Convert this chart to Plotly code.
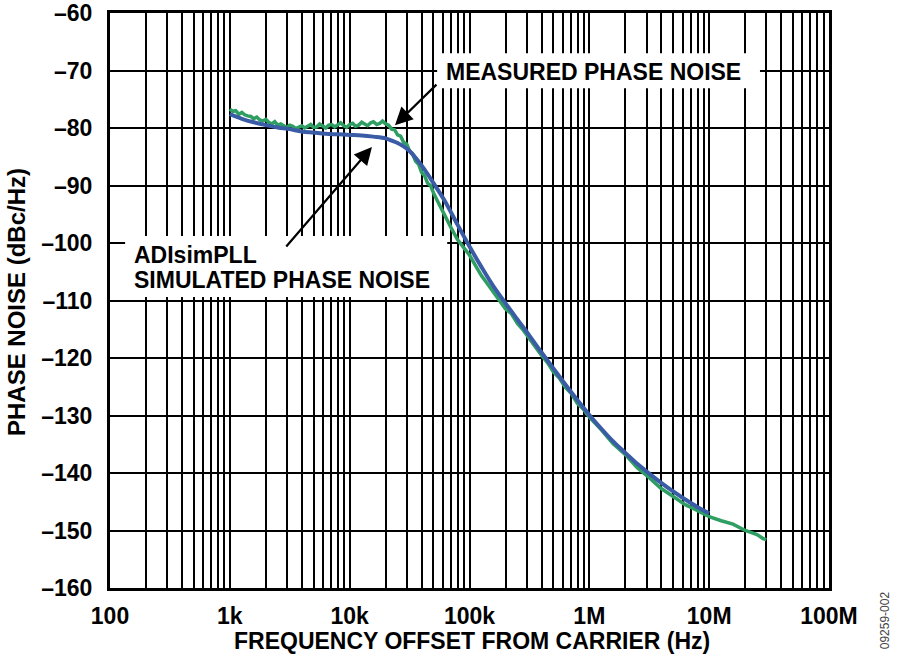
import plotly.graph_objects as go

# measured phase noise (green), offset freq in Hz and dBc/Hz
meas_freq = [1000, 1060, 1120, 1190, 1260, 1330, 1410, 1500, 1580, 1680, 1780, 1880,
             2000, 2110, 2240, 2370, 2510, 2660, 2820, 2990, 3160, 3350, 3550, 3760,
             3980, 4220, 4470, 4730, 5010, 5310, 5620, 5960, 6310, 6680, 7080, 7500,
             7940, 8410, 8910, 9440, 10000, 10600, 11200, 11900, 12600, 13300, 14100,
             15000, 15800, 16800, 17800, 18800, 20000, 21100, 22400, 23700, 25100,
             26600, 28200, 29900, 31600, 33500, 35500, 37600, 39800, 42200, 44700,
             47300, 50100, 56200, 63100, 70800, 79400, 89100, 100000, 112000, 126000,
             141000, 158000, 178000, 200000, 224000, 251000, 282000, 316000, 355000,
             398000, 447000, 501000, 562000, 631000, 708000, 794000, 891000, 1000000,
             1260000, 1580000, 2000000, 2510000, 3160000, 3980000, 5010000, 6310000,
             7940000, 10000000, 12600000, 15800000, 20000000, 25100000, 28200000, 30000000]
meas_db = [-76.7, -77.1, -77.0, -77.6, -77.3, -77.7, -77.9, -78.0, -78.4, -78.1, -78.6, -78.8,
           -78.5, -79.0, -79.3, -78.9, -79.5, -79.3, -79.6, -79.9, -79.5, -79.7, -80.1, -79.8,
           -79.6, -80.0, -79.7, -79.4, -79.9, -79.8, -79.3, -79.6, -80.0, -79.5, -79.4, -79.8,
           -79.5, -79.1, -79.6, -79.9, -79.4, -79.2, -79.7, -79.5, -79.0, -79.3, -79.6,
           -79.1, -78.9, -79.4, -79.2, -78.8, -79.3, -79.5, -80.2, -80.3, -81.2,
           -81.4, -82.5, -82.8, -84.0, -84.5, -85.8, -86.3, -87.7, -88.3, -89.6,
           -90.0, -91.3, -93.4, -95.6, -97.5, -99.4, -100.8, -102.1, -103.9, -105.7,
           -107.1, -108.6, -109.9, -111.5, -112.3, -114.0, -115.2, -116.7, -118.1,
           -119.5, -120.8, -122.4, -123.5, -125.1, -126.2, -127.9, -128.9, -130.3,
           -132.5, -134.9, -136.8, -139.1, -140.8, -142.7, -144.1, -145.5,
           -146.5, -147.6, -148.3, -148.9, -150.0, -150.7, -151.4, -151.6]

# ADIsimPLL simulated phase noise (blue)
sim_freq = [1000, 1260, 1580, 2000, 2510, 3160, 3980, 5010, 6310, 7940, 10000, 12600,
            15800, 20000, 22400, 25100, 28200, 31600, 35500, 39800, 44700, 50100, 56200,
            63100, 79400, 100000, 126000, 158000, 200000, 251000, 316000, 398000, 501000,
            631000, 794000, 1000000, 1260000, 1580000, 2000000, 2510000, 3160000, 3980000,
            5010000, 6310000, 7940000, 10000000]
sim_db = [-77.6, -78.4, -79.0, -79.5, -79.9, -80.2, -80.6, -80.8, -81.0, -81.1, -81.2, -81.3,
          -81.5, -81.8, -82.2, -82.6, -83.2, -84.0, -85.2, -86.5, -88.0, -89.6, -91.2,
          -92.9, -96.8, -100.6, -104.2, -107.5, -110.5, -113.3, -116.1, -119.0, -121.8,
          -124.6, -127.3, -129.9, -132.3, -134.5, -136.5, -138.4, -140.1, -141.7,
          -143.2, -144.6, -145.9, -147.0]

x_ticks = [1e2, 1e3, 1e4, 1e5, 1e6, 1e7, 1e8]
x_labels = ["100", "1k", "10k", "100k", "1M", "10M", "100M"]
y_ticks = [-60, -70, -80, -90, -100, -110, -120, -130, -140, -150, -160]
y_labels = ["\u2013" + str(-v) for v in y_ticks]

FONT = "Liberation Sans, Arial, sans-serif"
minor_vals = [m * 10 ** e for e in range(2, 8) for m in range(2, 10)]

fig = go.Figure()
fig.add_trace(go.Scatter(x=meas_freq, y=meas_db, mode="lines",
                         line=dict(color="#2f9e62", width=3.5), showlegend=False))
fig.add_trace(go.Scatter(x=sim_freq, y=sim_db, mode="lines",
                         line=dict(color="#3a5ca6", width=4, shape="spline"), showlegend=False))

tick_font = dict(family=FONT, size=23, color="black", weight="bold")
fig.update_xaxes(type="log", range=[2, 8], tickvals=x_ticks, ticktext=x_labels,
                 showgrid=True, gridcolor="black", gridwidth=2, automargin=False,
                 minor=dict(tickvals=minor_vals, showgrid=True, gridcolor="black", gridwidth=1.6, ticks=""),
                 showline=True, mirror=True, linecolor="black", linewidth=3,
                 ticks="", ticklabelstandoff=5, ticklabeloverflow="allow", tickfont=tick_font)
fig.update_yaxes(range=[-160, -60], tickvals=y_ticks, ticktext=y_labels,
                 showgrid=True, gridcolor="black", gridwidth=2, zeroline=False, automargin=False,
                 showline=True, mirror=True, linecolor="black", linewidth=3,
                 ticks="", ticklabelstandoff=10, ticklabeloverflow="allow", tickfont=tick_font)

# white label boxes that hide the grid
fig.add_shape(type="rect", xref="paper", yref="paper", x0=0.455, x1=0.904, y0=0.869, y1=0.930,
              fillcolor="white", line=dict(width=0), layer="above")
fig.add_shape(type="rect", xref="paper", yref="paper", x0=0.021, x1=0.469, y0=0.506, y1=0.612,
              fillcolor="white", line=dict(width=0), layer="above")

lab = dict(family=FONT, size=23, color="black", weight="bold")
fig.add_annotation(text="MEASURED PHASE NOISE", xref="paper", yref="paper", x=0.464, y=0.897,
                   xanchor="left", yanchor="middle", showarrow=False, font=lab)
fig.add_annotation(text="ADIsimPLL", xref="paper", yref="paper", x=0.030, y=0.580,
                   xanchor="left", yanchor="middle", showarrow=False, font=lab)
fig.add_annotation(text="SIMULATED PHASE NOISE", xref="paper", yref="paper", x=0.030, y=0.536,
                   xanchor="left", yanchor="middle", showarrow=False, font=lab)

# arrows
fig.add_annotation(text="", x=4.378, y=-79.5, ax=43, ay=-42, showarrow=True,
                   arrowhead=2, arrowsize=1.6, arrowwidth=2.2, arrowcolor="black", standoff=0)
fig.add_annotation(text="", x=4.186, y=-83.3, ax=-87, ay=101, showarrow=True,
                   arrowhead=2, arrowsize=1.6, arrowwidth=2.2, arrowcolor="black", standoff=0)

# axis titles
fig.add_annotation(text="FREQUENCY OFFSET FROM CARRIER (Hz)", xref="paper", yref="paper",
                   x=0.503, y=-0.092, xanchor="center", yanchor="middle", showarrow=False, font=lab)
fig.add_annotation(text="PHASE NOISE (dBc/Hz)", xref="paper", yref="paper", textangle=-90,
                   x=-0.131, y=0.497, xanchor="center", yanchor="middle", showarrow=False,
                   font=dict(family=FONT, size=24, color="black", weight="bold"))
fig.add_annotation(text="09259-002", xref="paper", yref="paper", textangle=-90,
                   x=1.078, y=-0.056, xanchor="center", yanchor="middle", showarrow=False,
                   font=dict(family=FONT, size=12, color="#444444"))

fig.update_layout(width=900, height=671, margin=dict(l=110, r=71, t=13, b=83),
                  plot_bgcolor="white", paper_bgcolor="white")

# drop the default body margin so the figure sits at the window corner
fig.write_html("out.html", config={"displayModeBar": False},
               post_script="document.body.style.margin='0';")
